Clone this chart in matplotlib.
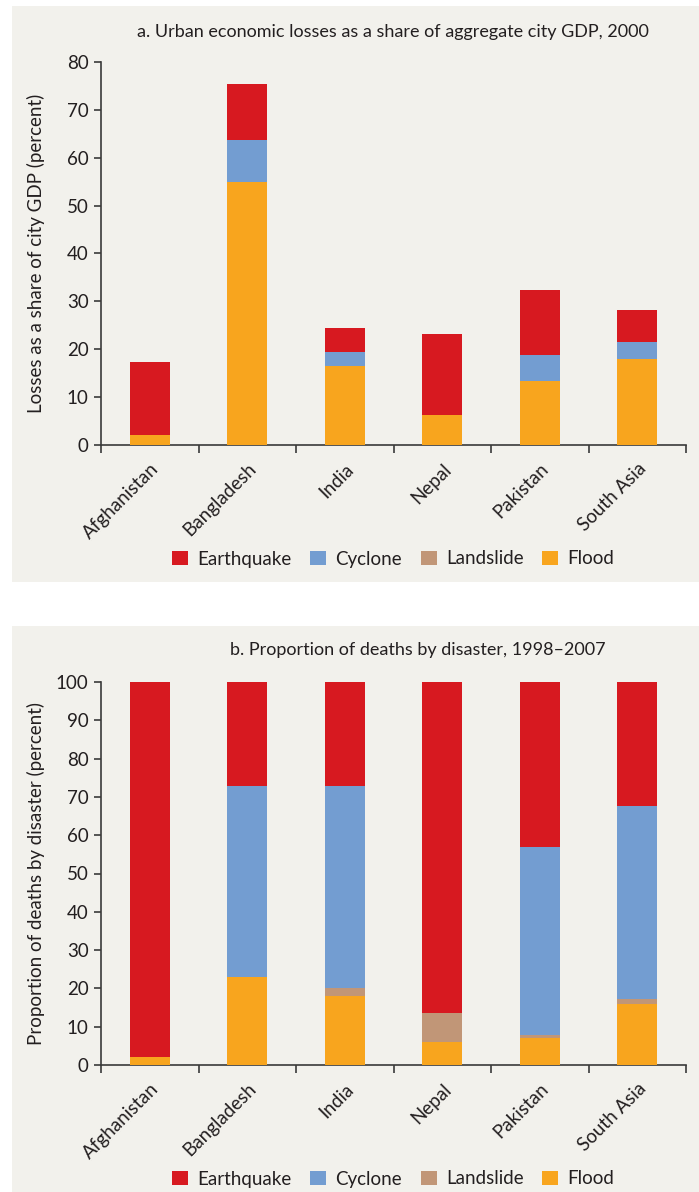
import matplotlib
matplotlib.use("Agg")
import matplotlib.pyplot as plt
from matplotlib.patches import Rectangle, Patch
import numpy as np

plt.rcParams['font.family'] = ['Lato', 'DejaVu Sans']

categories = ["Afghanistan", "Bangladesh", "India", "Nepal", "Pakistan", "South Asia"]
hazards = ["Earthquake", "Cyclone", "Landslide", "Flood"]

# Panel a: urban economic losses as share of city GDP (percent)
a_flood = [2.1, 55.0, 16.6, 6.2, 13.3, 18.0]
a_landslide = [0.0, 0.0, 0.0, 0.0, 0.0, 0.0]
a_cyclone = [0.0, 8.7, 2.8, 0.0, 5.5, 3.5]
a_earthquake = [15.2, 11.7, 5.0, 17.0, 13.6, 6.7]

# Panel b: proportion of deaths by disaster (percent)
b_flood = [2.1, 23.0, 18.0, 6.0, 7.0, 15.9]
b_landslide = [0.0, 0.0, 2.1, 7.6, 0.8, 1.3]
b_cyclone = [0.0, 49.8, 52.7, 0.0, 49.1, 50.4]
b_earthquake = [97.9, 27.2, 27.2, 86.4, 43.1, 32.4]

colors = {"Earthquake": "#d71920", "Cyclone": "#739dd1",
          "Landslide": "#c19677", "Flood": "#f8a51e"}
bg = "#f2f1ec"
txt = "#231f20"
axc = "#3a3a3a"

W, H = 699, 1192
fig = plt.figure(figsize=(W/100, H/100), dpi=100)
fig.patch.set_facecolor("white")

# panel backgrounds
fig.patches.append(Rectangle((12/W, 1-582/H), (W-12)/W, (582-6)/H,
                             transform=fig.transFigure, facecolor=bg, edgecolor='none', zorder=-10))
fig.patches.append(Rectangle((12/W, 0), (W-12)/W, (1192-626)/H,
                             transform=fig.transFigure, facecolor=bg, edgecolor='none', zorder=-10))

FS = 13.5

def make_panel(top_px, data, ymax, ystep, ylabel, title, title_x, title_y, legend_y):
    left, right, bottom = 101, 686, top_px + 383
    ax = fig.add_axes([left/W, 1-bottom/H, (right-left)/W, 383/H])
    ax.set_facecolor('none')
    x = np.arange(len(categories))
    base = np.zeros(len(categories))
    for name, vals in data:
        ax.bar(x, vals, bottom=base, width=0.41, color=colors[name], edgecolor='none', zorder=3)
        base = base + np.array(vals)
    ax.set_xlim(-0.5, len(categories)-0.5)
    ax.set_ylim(0, ymax)
    ax.set_yticks(np.arange(0, ymax+1, ystep))
    ax.set_xticks(np.arange(-0.5, len(categories), 1.0))
    ax.set_xticklabels([])
    ax.set_xticks(x, minor=True)
    ax.set_xticklabels(categories, minor=True, rotation=45, ha='right',
                       rotation_mode='anchor', fontsize=FS, color=txt)
    ax.tick_params(axis='x', which='minor', length=0, pad=11)
    ax.tick_params(axis='x', which='major', length=6, width=1.2, color=axc, direction='out')
    ax.tick_params(axis='y', length=5, width=1.2, color=axc, direction='out',
                   labelsize=FS, labelcolor=txt, pad=4)
    for s in ['top', 'right']:
        ax.spines[s].set_visible(False)
    for s in ['left', 'bottom']:
        ax.spines[s].set_color(axc)
        ax.spines[s].set_linewidth(1.2)
    ax.set_ylabel(ylabel, fontsize=FS, color=txt)
    ax.yaxis.set_label_coords((45 - left)/(right - left), 0.5)
    fig.text(title_x/W, 1-title_y/H, title, ha='center', va='center', fontsize=13, color=txt)
    handles = [Patch(facecolor=colors[h], edgecolor='none') for h in hazards]
    fig.legend(handles, hazards, loc='center', bbox_to_anchor=(393/W, 1-legend_y/H),
               ncol=4, frameon=False, fontsize=FS, handlelength=0.85, handleheight=0.85,
               handletextpad=0.5, columnspacing=1.0, labelcolor=txt)
    return ax

make_panel(62,
           [("Flood", a_flood), ("Landslide", a_landslide), ("Cyclone", a_cyclone), ("Earthquake", a_earthquake)],
           80, 10, "Losses as a share of city GDP (percent)",
           "a. Urban economic losses as a share of aggregate city GDP, 2000", 393, 32, 559)
make_panel(682,
           [("Flood", b_flood), ("Landslide", b_landslide), ("Cyclone", b_cyclone), ("Earthquake", b_earthquake)],
           100, 10, "Proportion of deaths by disaster (percent)",
           "b. Proportion of deaths by disaster, 1998\u20132007", 418, 650, 1179)

fig.savefig("out.png", dpi=100, facecolor="white")
